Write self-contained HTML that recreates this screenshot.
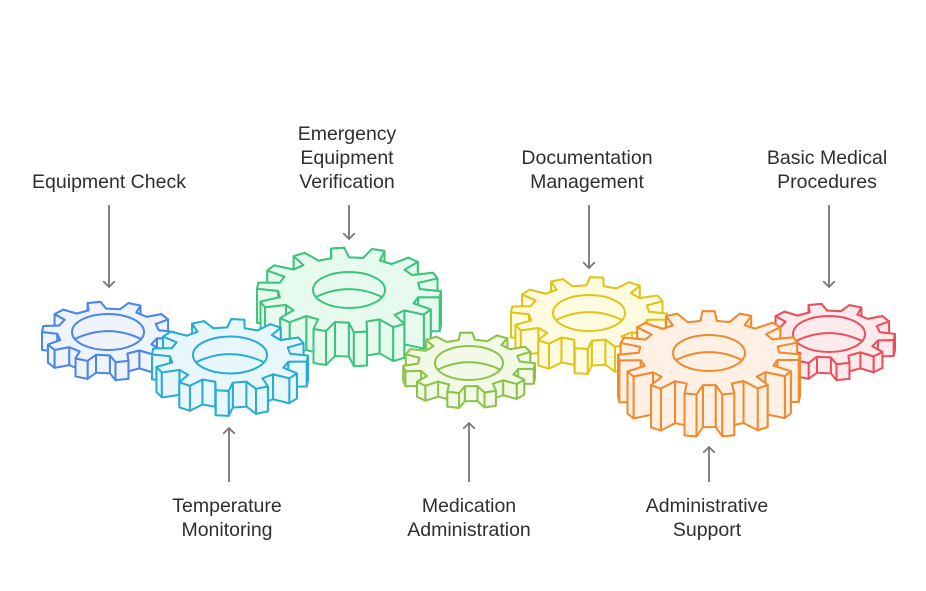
<!DOCTYPE html>
<html><head><meta charset="utf-8"><style>
body{margin:0;background:#fff;width:926px;height:591px;overflow:hidden;font-family:"Liberation Sans",sans-serif}
svg{position:absolute;left:0;top:0}
.t{position:absolute;font-size:19.5px;color:#2f2f2f;text-align:center;line-height:24px;transform:translateX(-50%);white-space:nowrap}
</style></head><body>
<svg id="s" width="926" height="591" viewBox="0 0 926 591">
<defs><marker id="a" markerWidth="12" markerHeight="12" refX="6" refY="6" orient="auto" markerUnits="userSpaceOnUse"><path d="M0,0 L6,6 L0,12" fill="none" stroke="#777" stroke-width="1.8"/></marker></defs>
<g stroke="#777" stroke-width="1.8">
<line x1="109" y1="205" x2="109" y2="287" marker-end="url(#a)"/>
<line x1="349" y1="205" x2="349" y2="239" marker-end="url(#a)"/>
<line x1="589" y1="205" x2="589" y2="268" marker-end="url(#a)"/>
<line x1="829" y1="205" x2="829" y2="287" marker-end="url(#a)"/>
<line x1="229" y1="482" x2="229" y2="428" marker-end="url(#a)"/>
<line x1="469" y1="482" x2="469" y2="423" marker-end="url(#a)"/>
<line x1="709" y1="482" x2="709" y2="447" marker-end="url(#a)"/>
</g>
<g id="g"></g>
</svg>
<div class="t" style="left:109px;top:170px">Equipment Check</div>
<div class="t" style="left:347px;top:122px">Emergency<br>Equipment<br>Verification</div>
<div class="t" style="left:587px;top:146px">Documentation<br>Management</div>
<div class="t" style="left:827px;top:146px">Basic Medical<br>Procedures</div>
<div class="t" style="left:227px;top:494px">Temperature<br>Monitoring</div>
<div class="t" style="left:469px;top:494px">Medication<br>Administration</div>
<div class="t" style="left:707px;top:494px">Administrative<br>Support</div>
<script>
var gears=[
[349,290,92,34,14,"#3cc47c","#e6faee",36],
[589,313,78,25,12,"#e2c417","#fefbe0",36],
[108,332,66,18,10,"#4a86e8","#eef3fd",36],
[829,334,66,16,10,"#e8505b","#fdeaec",36],
[230,355,78,25,12,"#29abd4","#e8f7fc",37],
[469,363,66,15,11,"#8bc34a","#f2f9e6",34],
[709,353,91,42,15,"#ef8a2e","#fef0e4",36]];
var out="";
gears.forEach(function(g){
var cx=g[0],cy=g[1],R=g[2],T=g[3],n=g[4],c=g[5],f=g[6],hr=g[7];
var ry=0.46,p=2*Math.PI/n,r=R*0.77,pts=[];
for(var i=0;i<n;i++){var a=i*p+0.1;
[[a-0.16*p,R],[a+0.16*p,R],[a+0.28*p,r],[a+0.72*p,r]].forEach(function(q){pts.push([cx+q[1]*Math.cos(q[0]),cy+q[1]*Math.sin(q[0])*ry]);});}
var quads=[];
for(var i=0;i<pts.length;i++){var A=pts[i],B=pts[(i+1)%pts.length];
quads.push({y:(A[1]+B[1])/2,d:"M"+A[0]+","+A[1]+"L"+B[0]+","+B[1]+"L"+B[0]+","+(B[1]+T)+"L"+A[0]+","+(A[1]+T)+"Z"});}
quads.sort(function(a,b){return a.y-b.y});
var s='<g stroke="'+c+'" stroke-width="2" stroke-linejoin="round" fill="'+f+'">';
quads.forEach(function(q){s+='<path d="'+q.d+'"/>';});
s+='<polygon points="'+pts.map(function(q){return q.join(",")}).join(" ")+'"/>';
var hy=hr*0.5;
s+='<ellipse cx="'+cx+'" cy="'+cy+'" rx="'+hr+'" ry="'+hy+'"/>';
s+='<path fill="none" d="M'+(cx-hr*0.93)+','+(cy+hy*0.4)+' Q'+cx+','+(cy-hy*0.5)+' '+(cx+hr*0.93)+','+(cy+hy*0.4)+'"/>';
s+='</g>';out+=s;});
document.getElementById("g").innerHTML=out;
</script>
</body></html>
